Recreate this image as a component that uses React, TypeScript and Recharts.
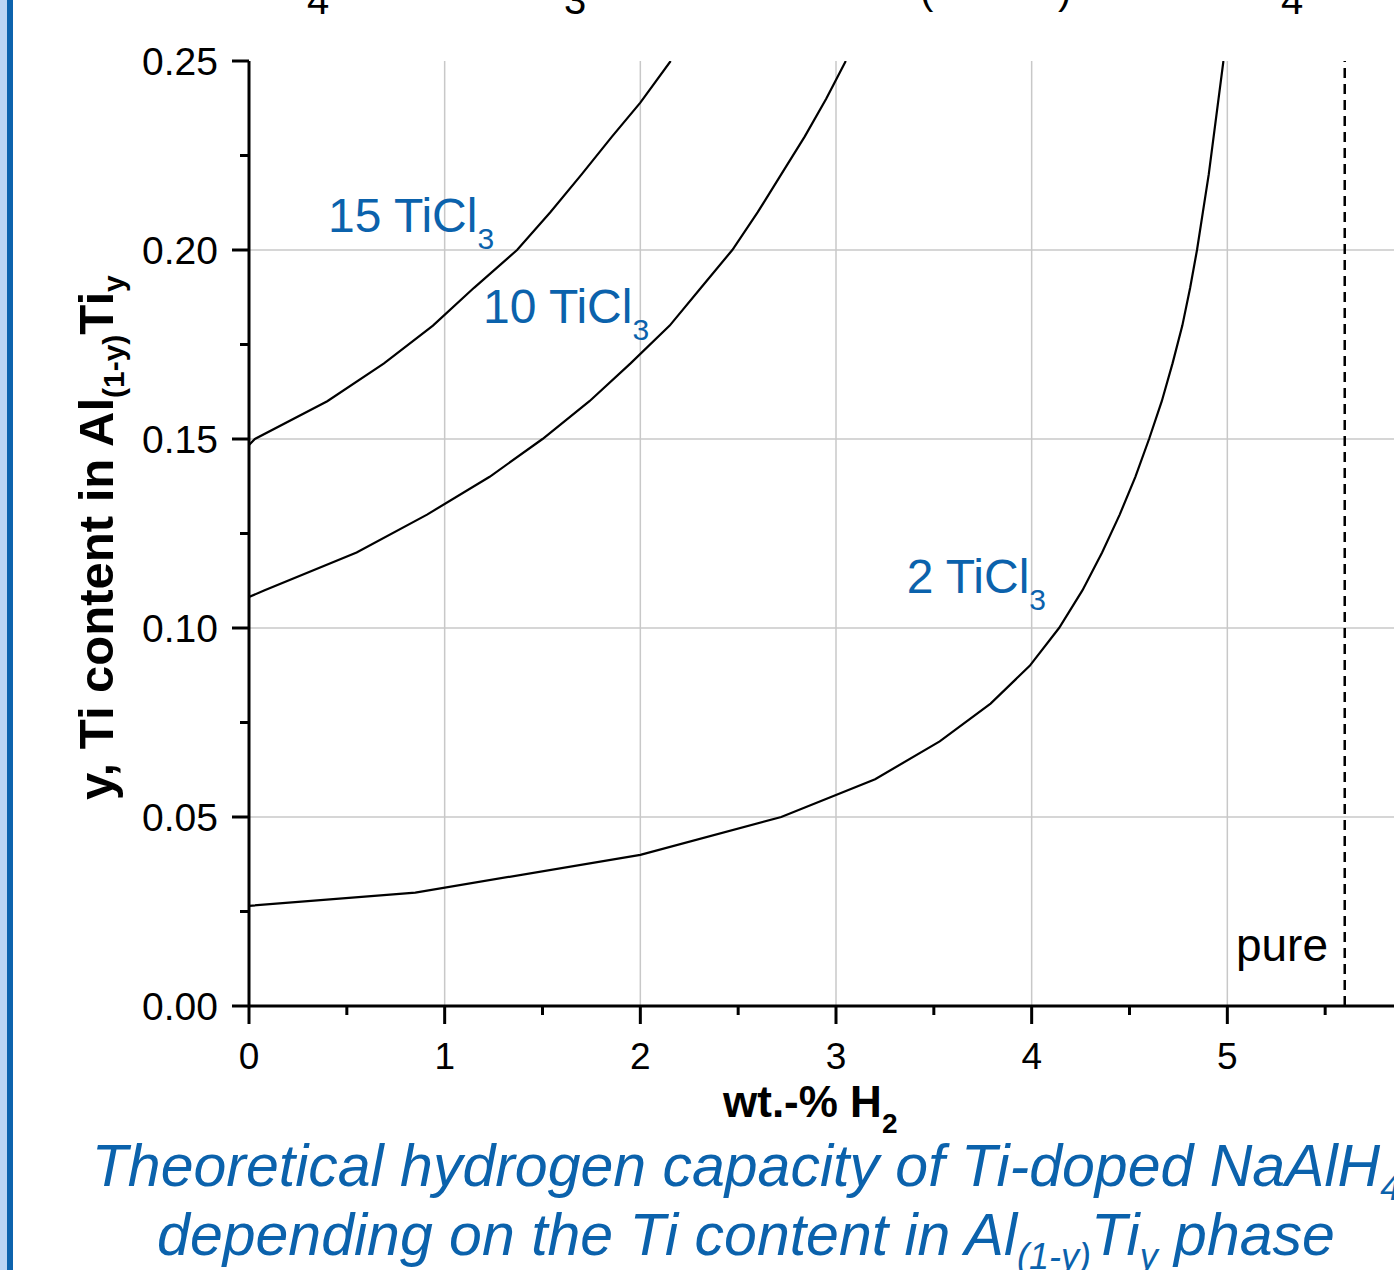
import React from 'react';
import { LineChart, Line, XAxis, YAxis, CartesianGrid, ReferenceLine, ReferenceDot } from 'recharts';

// Ti content y vs. wt.-% H2 (steps of 0.01 in y)
const doped15 = [
  { x: 0, y: 0.1484 }, { x: 0.03, y: 0.15 }, { x: 0.4, y: 0.16 }, { x: 0.69, y: 0.17 },
  { x: 0.94, y: 0.18 }, { x: 1.15, y: 0.19 }, { x: 1.37, y: 0.2 }, { x: 1.54, y: 0.21 },
  { x: 1.7, y: 0.22 }, { x: 1.855, y: 0.23 }, { x: 2.0, y: 0.239 }, { x: 2.155, y: 0.25 },
];

const doped10 = [
  { x: 0, y: 0.1082 }, { x: 0.08, y: 0.11 }, { x: 0.55, y: 0.12 }, { x: 0.91, y: 0.13 },
  { x: 1.23, y: 0.14 }, { x: 1.5, y: 0.15 }, { x: 1.74, y: 0.16 }, { x: 1.95, y: 0.17 },
  { x: 2.15, y: 0.18 }, { x: 2.31, y: 0.19 }, { x: 2.47, y: 0.2 }, { x: 2.6, y: 0.21 },
  { x: 2.72, y: 0.22 }, { x: 2.84, y: 0.23 }, { x: 2.95, y: 0.24 }, { x: 3.05, y: 0.25 },
];

const doped2 = [
  { x: 0, y: 0.0265 }, { x: 0.85, y: 0.03 }, { x: 2.0, y: 0.04 }, { x: 2.72, y: 0.05 },
  { x: 3.2, y: 0.06 }, { x: 3.53, y: 0.07 }, { x: 3.79, y: 0.08 }, { x: 3.99, y: 0.09 },
  { x: 4.14, y: 0.1 }, { x: 4.26, y: 0.11 }, { x: 4.36, y: 0.12 }, { x: 4.45, y: 0.13 },
  { x: 4.53, y: 0.14 }, { x: 4.6, y: 0.15 }, { x: 4.665, y: 0.16 }, { x: 4.72, y: 0.17 },
  { x: 4.77, y: 0.18 }, { x: 4.81, y: 0.19 }, { x: 4.845, y: 0.2 }, { x: 4.875, y: 0.21 },
  { x: 4.905, y: 0.22 }, { x: 4.93, y: 0.23 }, { x: 4.955, y: 0.24 }, { x: 4.98, y: 0.25 },
];

const pureCapacity = 5.6;

const xTicks = [0, 0.5, 1, 1.5, 2, 2.5, 3, 3.5, 4, 4.5, 5, 5.5, 6];
const yTicks = [0, 0.025, 0.05, 0.075, 0.1, 0.125, 0.15, 0.175, 0.2, 0.225, 0.25];
const xGrid = [1, 2, 3, 4, 5, 6];
const yGrid = [0.05, 0.1, 0.15, 0.2];

const annotations = [
  { x: 0.404, y: 0.2048, text: '15 TiCl', sub: '3' },
  { x: 1.196, y: 0.1807, text: '10 TiCl', sub: '3' },
  { x: 3.361, y: 0.1093, text: '2 TiCl', sub: '3' },
];

const FONT = '"Liberation Sans", Arial, sans-serif';
const BLUE = '#0b62ac';

const isMajorX = (v: number) => Number.isInteger(v);
const isMajorY = (v: number) => Math.round(v * 1000) % 50 === 0;

const BottomTick = (props: any) => {
  const { x, y, payload } = props;
  const major = isMajorX(payload.value);
  return (
    <g>
      <line x1={x} x2={x} y1={y} y2={y + (major ? 18 : 9)} stroke="#000" strokeWidth={3} />
      {major && (
        <text x={x} y={y + 63} textAnchor="middle" fontSize={37} fontFamily={FONT} fill="#000">
          {payload.value}
        </text>
      )}
    </g>
  );
};

const TopTick = (props: any) => {
  const { x, y, payload } = props;
  const major = isMajorX(payload.value);
  return <line x1={x} x2={x} y1={y} y2={y + (major ? 18 : 9)} stroke="#000" strokeWidth={3} />;
};

const LeftTick = (props: any) => {
  const { x, y, payload } = props;
  const major = isMajorY(payload.value);
  return (
    <g>
      <line x1={x - (major ? 17 : 9)} x2={x} y1={y} y2={y} stroke="#000" strokeWidth={3} />
      {major && (
        <text x={x - 31} y={y + 14} textAnchor="end" fontSize={39} fontFamily={FONT} fill="#000">
          {payload.value.toFixed(2)}
        </text>
      )}
    </g>
  );
};

const annotShape = (text: string, sub: string) => (props: any) => (
  <text x={props.cx} y={props.cy} fontSize={48} fontFamily={FONT} fill={BLUE}>
    {text}
    <tspan dy={17} fontSize={30}>{sub}</tspan>
  </text>
);

const pureShape = (props: any) => (
  <text x={props.cx} y={props.cy} fontSize={46} fontFamily={FONT} fill="#000">pure</text>
);

export default function App() {
  return (
    <div style={{ position: 'fixed', left: 0, top: 0, width: 1394, height: 1270, overflow: 'hidden', background: '#fff' }}>
      <div style={{ position: 'absolute', left: 0, top: 0, width: 7, height: 1270, background: '#bbd5f4' }} />
      <div style={{ position: 'absolute', left: 7, top: 0, width: 6, height: 1270, background: '#0d63ad' }} />

      <div style={{ position: 'absolute', left: 0, top: 0 }}>
        <LineChart width={1443} height={1100} margin={{ top: 61, right: 20, bottom: 0, left: 0 }}>
          <CartesianGrid
            stroke="#c8c8c8"
            strokeWidth={1.5}
            horizontalValues={yGrid}
            verticalValues={xGrid}
          />
          <XAxis
            type="number"
            dataKey="x"
            domain={[0, 6]}
            ticks={xTicks}
            interval={0}
            height={94}
            tickSize={0}
            tickMargin={0}
            tickLine={false}
            tick={<BottomTick />}
            axisLine={{ stroke: '#000', strokeWidth: 3 }}
            allowDataOverflow
          />
          <XAxis
            xAxisId="top"
            orientation="top"
            type="number"
            dataKey="x"
            domain={[0, 6]}
            ticks={xTicks}
            interval={0}
            height={0}
            tickSize={0}
            tickMargin={0}
            tickLine={false}
            tick={<TopTick />}
            axisLine={{ stroke: '#000', strokeWidth: 3 }}
            allowDataOverflow
          />
          <YAxis
            type="number"
            domain={[0, 0.25]}
            ticks={yTicks}
            interval={0}
            width={249}
            tickSize={0}
            tickMargin={0}
            tickLine={false}
            tick={<LeftTick />}
            axisLine={{ stroke: '#000', strokeWidth: 3 }}
            allowDataOverflow
          />
          <ReferenceLine x={pureCapacity} stroke="#000" strokeWidth={2.5} strokeDasharray="10 6" />
          <Line data={doped15} dataKey="y" type="linear" stroke="#000" strokeWidth={2.2} dot={false} isAnimationActive={false} />
          <Line data={doped10} dataKey="y" type="linear" stroke="#000" strokeWidth={2.2} dot={false} isAnimationActive={false} />
          <Line data={doped2} dataKey="y" type="linear" stroke="#000" strokeWidth={2.2} dot={false} isAnimationActive={false} />
          {annotations.map((a) => (
            <ReferenceDot key={a.text} x={a.x} y={a.y} r={0} shape={annotShape(a.text, a.sub)} />
          ))}
          <ReferenceDot x={5.044} y={0.0119} r={0} shape={pureShape} />
        </LineChart>
      </div>

      <svg width={1394} height={1270} style={{ position: 'absolute', left: 0, top: 0, pointerEvents: 'none' }}>
        {/* bottoms of the line above, cut off by the frame */}
        <g fontFamily={FONT} fontSize={40} fill="#000">
          <text x={307} y={14}>4</text>
          <text x={564} y={14}>3</text>
          <text x={920} y={4}>(</text>
          <text x={1058} y={4}>)</text>
          <text x={1281} y={14}>4</text>
        </g>

        <text transform="translate(113,800) rotate(-90)" fontFamily={FONT} fontWeight="bold" fontSize={49} fill="#000">
          y, Ti content in Al
          <tspan fontSize={30} dy={11}>(1-y)</tspan>
          <tspan fontSize={49} dy={-11}>Ti</tspan>
          <tspan fontSize={30} dy={11}>y</tspan>
        </text>

        <text x={723} y={1117} fontFamily={FONT} fontWeight="bold" fontSize={44} fill="#000">
          wt.-% H<tspan fontSize={28} dy={16}>2</tspan>
        </text>

        <text x={746} y={1186} textAnchor="middle" fontFamily={FONT} fontStyle="italic" fontSize={59} fill={BLUE}>
          Theoretical hydrogen capacity of Ti-doped NaAlH<tspan fontSize={36} dy={14}>4</tspan>
        </text>
        <text x={746} y={1255} textAnchor="middle" fontFamily={FONT} fontStyle="italic" fontSize={59} fill={BLUE}>
          depending on the Ti content in Al<tspan fontSize={36} dy={14}>(1-y)</tspan>
          <tspan fontSize={59} dy={-14}>Ti</tspan>
          <tspan fontSize={36} dy={14}>y</tspan>
          <tspan fontSize={59} dy={-14}> phase</tspan>
        </text>
      </svg>
    </div>
  );
}
